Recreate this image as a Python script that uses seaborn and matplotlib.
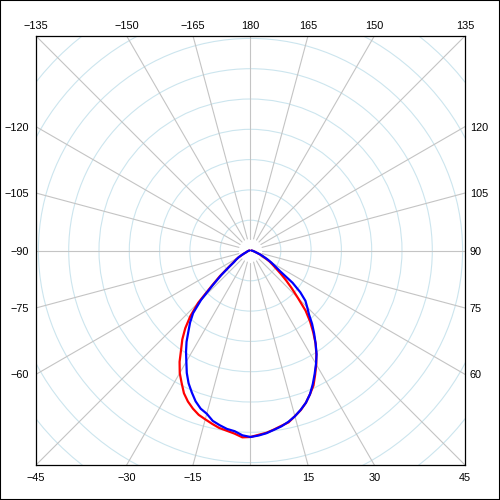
import numpy as np
import pandas as pd
import matplotlib
matplotlib.use("Agg")
import matplotlib.pyplot as plt
from matplotlib.patches import Circle, Rectangle
import seaborn as sns

# ---- data (angle in degrees, 0 = straight down, positive = right) ----
angles = [-90, -85, -80, -75,
          -70, -67.5, -65, -62.5, -60, -57.5, -55, -52.5, -50, -47.5,
          -45, -42.5, -40, -37.5, -35, -32.5, -30, -27.5, -25, -22.5,
          -20, -17.5, -15, -12.5, -10, -7.5, -5, -2.5, 0, 2.5,
          5, 7.5, 10, 12.5, 15, 17.5, 20, 22.5, 25, 27.5,
          30, 32.5, 35, 37.5, 40, 42.5, 45, 47.5, 50, 52.5,
          55, 57.5, 60, 62.5, 65, 67.5, 70,
          75, 80, 85, 90]
red_values = [1, 1.5, 2, 3,
              4, 5, 7, 10, 14, 17.5, 21, 28, 40, 53,
              74, 89, 101.5, 112, 121, 132, 141.5, 149.2, 157.5, 163.5,
              168.3, 172.3, 174.8, 177.5, 180.2, 181.8, 183.8, 187, 186.5, 184.5,
              183, 180.5, 178, 176, 171.5, 167.3, 162, 155.5, 149, 140,
              131.5, 122.5, 113.5, 103, 92.7, 81.5, 67, 56, 46.5, 38,
              31, 26, 22, 17, 13, 10, 7,
              4, 2.5, 1.5, 1]
blue_values = [1, 1.5, 2, 3,
               4, 5, 7, 10, 14, 17, 20, 27, 38, 51,
               70, 85, 94, 102, 111.5, 120, 128.3, 138, 146.5, 153.5,
               160.5, 165.8, 169, 174.5, 177.4, 180, 181.4, 185, 186.5, 185.2,
               183.4, 180.8, 178.5, 175.4, 171.6, 167, 162, 155.5, 147.4, 139,
               131, 123, 113.5, 104.5, 95.8, 86.5, 80.2, 74.5, 65, 53,
               36, 29, 24, 19, 14, 10.5, 7,
               4, 2.5, 1.5, 1]

bottom_angles = [-45, -30, -15, 15, 30, 45]
top_angles = [-135, -150, -165, 180, 165, 150, 135]
left_angles = [-120, -105, -90, -75, -60]
right_angles = [120, 105, 90, 75, 60]
spoke_angles = list(range(-180, 180, 15))

# ---- layout constants ----
RING = 30.3
LIMIT = 214.5
N_RINGS = 11
SPOKE_START = 12

sns.set_theme(style="white")
plt.rcParams["font.family"] = ["Liberation Sans", "DejaVu Sans"]
plt.rcParams["axes.unicode_minus"] = True

fig = plt.figure(figsize=(5, 5), dpi=100)
ax = fig.add_axes([36 / 500, 35 / 500, 429 / 500, 429 / 500])
ax.set_xlim(-LIMIT, LIMIT)
ax.set_ylim(-LIMIT, LIMIT)
ax.set_aspect("equal")

# rings
for k in range(1, N_RINGS):
    ax.add_patch(Circle((0, 0), k * RING, fill=False, edgecolor="#cce5ee", linewidth=0.8, zorder=1))

# spokes
for a in spoke_angles:
    t = np.radians(a)
    ax.plot([SPOKE_START * np.sin(t), 400 * np.sin(t)],
            [-SPOKE_START * np.cos(t), -400 * np.cos(t)],
            color="#c4c4c4", linewidth=0.8, zorder=2)

# curves
def to_xy(vals, name):
    t = np.radians(np.array(angles, dtype=float))
    r = np.array(vals, dtype=float)
    return pd.DataFrame({"x": r * np.sin(t), "y": -r * np.cos(t), "series": name})

df = pd.concat([to_xy(red_values, "red"), to_xy(blue_values, "blue")], ignore_index=True)
sns.lineplot(data=df, x="x", y="y", hue="series", palette={"red": "#ff0000", "blue": "#0000ff"},
             sort=False, estimator=None, linewidth=1.6, legend=False, ax=ax, zorder=5)
ax.set_xlabel("")
ax.set_ylabel("")

def fmt(a):
    return str(a).replace("-", "\u2212")

ax.set_xticks([LIMIT * np.tan(np.radians(a)) for a in bottom_angles], [fmt(a) for a in bottom_angles])
ax.set_yticks([LIMIT / np.tan(np.radians(a)) for a in left_angles], [fmt(a) for a in left_angles])
ax.tick_params(axis="both", length=0, labelsize=7.8, colors="black", pad=5)
ax.tick_params(axis="x", pad=6)

top = ax.secondary_xaxis("top", functions=(lambda v: v, lambda v: v))
top.set_xticks([-LIMIT * np.tan(np.radians(a)) for a in top_angles], [fmt(a) for a in top_angles])
top.tick_params(length=0, labelsize=7.8, colors="black", pad=3.5)
top.spines["top"].set_visible(False)

right = ax.secondary_yaxis("right", functions=(lambda v: v, lambda v: v))
right.set_yticks([-LIMIT / np.tan(np.radians(a)) for a in right_angles], [fmt(a) for a in right_angles])
right.tick_params(length=0, labelsize=7.8, colors="black", pad=3.5)
right.spines["right"].set_visible(False)

for s in ax.spines.values():
    s.set_visible(True)
    s.set_color("black")
    s.set_linewidth(0.9)

fig.patches.append(Rectangle((0, 0), 1, 1, transform=fig.transFigure, fill=False,
                             edgecolor="black", linewidth=1.5, zorder=10))

fig.savefig("out.png", dpi=100, facecolor="white")
